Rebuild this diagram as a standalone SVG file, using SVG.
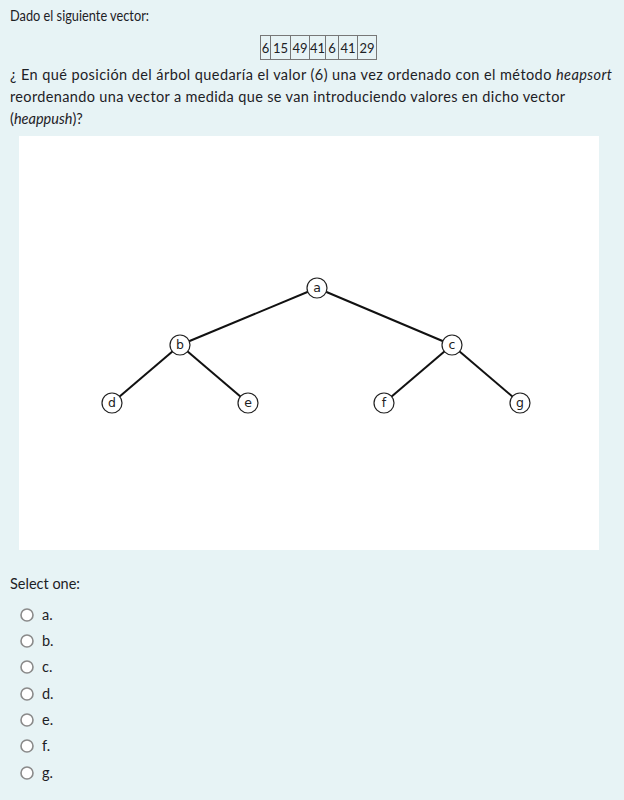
<svg xmlns="http://www.w3.org/2000/svg" width="624" height="800" viewBox="0 0 624 800">
<style>
.t{font-family:Lato,"Noto Sans","Liberation Sans",sans-serif;font-size:14.5px;fill:#1d2125}
.n{font-family:"DejaVu Sans",sans-serif;font-size:12.5px;fill:#222;text-anchor:middle}
.node{fill:#fff;stroke:#222;stroke-width:1.2}
.edge{stroke:#111;stroke-width:2;fill:none}
.cell{fill:none;stroke:#777;stroke-width:1}
.radio{fill:#fff;stroke:#8a8a8a;stroke-width:1.6}
.v{font-family:Lato,"Noto Sans",sans-serif;font-size:13px;fill:#1d2125;text-anchor:middle}
</style>
<rect width="624" height="800" fill="#e7f3f5"/>
<text class="t" x="10" y="21" textLength="139" lengthAdjust="spacingAndGlyphs">Dado el siguiente vector:</text>
<g id="vector">
<rect class="cell" x="260.5" y="35.5" width="116" height="24"/>
<path class="cell" d="M270.5 35.5V59.5M290.5 35.5V59.5M309.5 35.5V59.5M325.5 35.5V59.5M338.5 35.5V59.5M357.5 35.5V59.5"/>
<text class="v" x="265.5" y="52.5">6</text>
<text class="v" x="280.5" y="52.5">15</text>
<text class="v" x="300" y="52.5">49</text>
<text class="v" x="317.5" y="52.5">41</text>
<text class="v" x="332" y="52.5">6</text>
<text class="v" x="348" y="52.5">41</text>
<text class="v" x="367" y="52.5">29</text>
</g>
<text class="t" x="10" y="80" textLength="602" lengthAdjust="spacing">¿ En qué posición del árbol quedaría el valor (6) una vez ordenado con el método <tspan font-style="italic">heapsort</tspan></text>
<text class="t" x="10" y="102" textLength="555" lengthAdjust="spacing">reordenando una vector a medida que se van introduciendo valores en dicho vector</text>
<text class="t" x="10" y="124">(<tspan font-style="italic">heappush</tspan>)?</text>
<rect x="19" y="136" width="580" height="414" fill="#fff"/>
<g id="edges">
<line class="edge" x1="317" y1="288" x2="180" y2="345"/>
<line class="edge" x1="317" y1="288" x2="452" y2="345"/>
<line class="edge" x1="180" y1="345" x2="112" y2="403"/>
<line class="edge" x1="180" y1="345" x2="248" y2="403"/>
<line class="edge" x1="452" y1="345" x2="384" y2="403"/>
<line class="edge" x1="452" y1="345" x2="520" y2="403"/>
</g>
<g id="node-a"><circle class="node" cx="317" cy="288" r="10"/><text class="n" x="317" y="292">a</text></g>
<g id="node-b"><circle class="node" cx="180" cy="345" r="10"/><text class="n" x="180" y="349">b</text></g>
<g id="node-c"><circle class="node" cx="452" cy="345" r="10"/><text class="n" x="452" y="349">c</text></g>
<g id="node-d"><circle class="node" cx="112" cy="403" r="10"/><text class="n" x="112" y="407">d</text></g>
<g id="node-e"><circle class="node" cx="248" cy="403" r="10"/><text class="n" x="248" y="407">e</text></g>
<g id="node-f"><circle class="node" cx="384" cy="403" r="10"/><text class="n" x="384" y="407">f</text></g>
<g id="node-g"><circle class="node" cx="520" cy="403" r="10"/><text class="n" x="520" y="407">g</text></g>
<text class="t" x="10" y="589">Select one:</text>
<g id="options">
<circle class="radio" cx="27" cy="615" r="6"/><text class="t" x="42" y="620">a.</text>
<circle class="radio" cx="27" cy="641" r="6"/><text class="t" x="42" y="646">b.</text>
<circle class="radio" cx="27" cy="667" r="6"/><text class="t" x="42" y="672">c.</text>
<circle class="radio" cx="27" cy="694" r="6"/><text class="t" x="42" y="699">d.</text>
<circle class="radio" cx="27" cy="720" r="6"/><text class="t" x="42" y="725">e.</text>
<circle class="radio" cx="27" cy="746" r="6"/><text class="t" x="42" y="751">f.</text>
<circle class="radio" cx="27" cy="773" r="6"/><text class="t" x="42" y="778">g.</text>
</g>
</svg>
